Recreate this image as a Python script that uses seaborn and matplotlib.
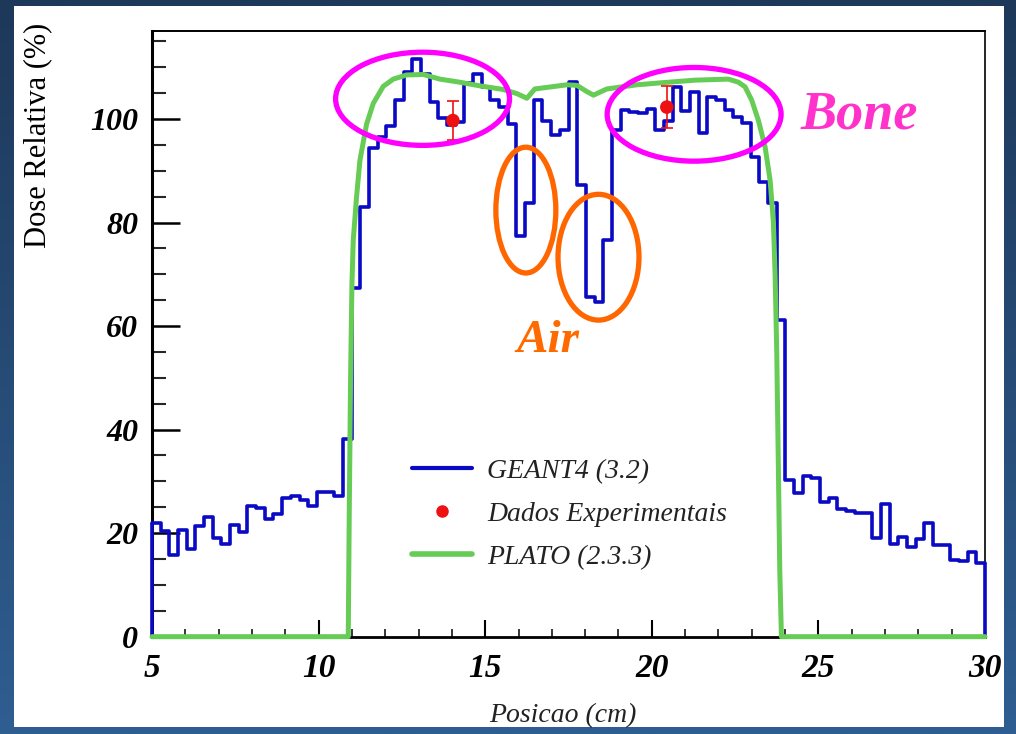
import numpy as np
import pandas as pd
import matplotlib
matplotlib.use("Agg")
import matplotlib.pyplot as plt
import seaborn as sns
from matplotlib.patches import Ellipse, Rectangle
from matplotlib.lines import Line2D
from matplotlib.ticker import MultipleLocator
from matplotlib.colors import LinearSegmentedColormap


# GEANT4 (3.2) dose histogram, 96 equal bins from 5 to 30 cm
geant4_left = [22.0, 20.5, 15.7, 20.7, 16.9, 21.4, 23.2, 19.0, 17.9, 21.6, 20.3, 25.2,
               24.8, 22.8, 23.6, 26.7, 27.2, 26.4, 25.3, 27.9, 27.9, 27.2, 38.1]
geant4_mid = [67.3, 83.0, 94.3, 96.5, 98.6, 103.7, 109.0, 111.5, 108.6, 103.2, 100.1, 98.8,
              99.4, 107.0, 108.6, 106.2, 103.7, 102.3, 99.1, 77.4, 83.8, 103.7, 99.7, 97.0,
              97.9, 107.1, 87.2, 65.6, 64.7, 76.7, 97.8, 101.7, 101.4, 101.2, 102.0, 97.9,
              99.7, 106.2, 101.5, 105.2, 97.3, 104.2, 103.7, 101.7, 100.3, 99.2, 92.7, 87.8,
              83.8, 61.1]
geant4_right = [30.2, 27.8, 31.1, 30.6, 26.1, 26.7, 24.6, 24.3, 23.9, 23.9, 19.0, 25.6,
                17.9, 19.3, 17.3, 18.8, 22.0, 17.7, 17.7, 14.8, 14.6, 16.4, 14.3]

# PLATO (2.3.3) profile
plato_x = [5.0, 10.89, 10.92, 10.96, 11.00, 11.04, 11.14, 11.24, 11.44, 11.64, 11.94, 12.24,
           12.64, 13.14, 13.64, 14.24, 14.84, 15.54, 15.95, 16.25, 16.49, 17.45, 17.75, 18.05,
           18.25, 18.65, 19.55, 20.30, 21.30, 22.30, 22.60, 22.80, 23.00, 23.20, 23.40, 23.55,
           23.65, 23.70, 23.75, 23.80, 23.84, 23.89, 30.0]
plato_y = [0, 0, 24, 50, 68, 76.6, 85, 92, 99, 103, 106.3, 107.7,
           108.5, 108.6, 107.7, 107.1, 106.4, 105.7, 104.9, 104.0, 105.8, 106.6, 106.5, 105.3,
           104.6, 105.8, 106.6, 107.0, 107.5, 107.7, 107.1, 106.2, 103.6, 99.7, 94.6, 88.2,
           80, 70, 55, 32, 13, 0, 0]

# Dados experimentais
exp_x = [14.03, 20.45]
exp_y = [99.7, 102.3]
exp_err = [3.8, 4.0]

x_ticks = [5, 10, 15, 20, 25, 30]
y_ticks = [0, 20, 40, 60, 80, 100]
legend_labels = ["GEANT4 (3.2)", "Dados Experimentais", "PLATO (2.3.3)"]

BLUE = "#0a0ac4"
GREEN = "#66cc55"
RED = "#ee1111"
MAGENTA = "#ff00ff"
ORANGE = "#ff6600"

geant4 = np.array(geant4_left + geant4_mid + geant4_right)
bin_edges = np.linspace(5, 30, len(geant4) + 1)
hist_df = pd.DataFrame({"pos": (bin_edges[:-1] + bin_edges[1:]) / 2, "dose": geant4})

sns.set_theme(style="white")
plt.rcParams["font.family"] = ["Liberation Serif", "DejaVu Serif"]

fig = plt.figure(figsize=(10.16, 7.34), dpi=100)

# slide background + white panel
bg = fig.add_axes([0, 0, 1, 1], zorder=-10)
grad = np.linspace(0, 1, 256).reshape(-1, 1)
cmap = LinearSegmentedColormap.from_list("slide", ["#1d3859", "#2f5e92"])
bg.imshow(grad, aspect="auto", cmap=cmap, extent=[0, 1, 0, 1], origin="upper")
bg.add_patch(Rectangle((0.0138, 0.0095), 0.9742, 0.9823, transform=bg.transAxes,
                       facecolor="white", edgecolor="none"))
bg.set_xlim(0, 1)
bg.set_ylim(0, 1)
bg.axis("off")

ax = fig.add_axes([0.1496, 0.1326, 0.8199, 0.8252])
ax.set_facecolor("white")

# GEANT4 histogram
sns.histplot(data=hist_df, x="pos", weights="dose", bins=list(bin_edges), element="step",
             fill=False, color=BLUE, linewidth=2.6, ax=ax)
hist_line = ax.lines[-1]
hist_line.set_zorder(3)
hist_line.set_clip_on(False)
ax.vlines([bin_edges[0], bin_edges[-1]], 0, [geant4[0], geant4[-1]], color=BLUE,
          linewidth=2.6, zorder=3, clip_on=False)

# PLATO
sns.lineplot(x=plato_x, y=plato_y, color=GREEN, linewidth=3.6, ax=ax, zorder=4,
             clip_on=False)

# experimental points
ax.errorbar(exp_x, exp_y, yerr=exp_err, fmt="none", ecolor=RED, elinewidth=1.2,
            capsize=4, capthick=1.2, zorder=5)
sns.scatterplot(x=exp_x, y=exp_y, color=RED, s=95, edgecolor="none", ax=ax, zorder=6)

# annotations
for (cx, cy, w, h, col) in [(13.12, 103.9, 5.22, 18.0, MAGENTA),
                            (21.27, 100.9, 5.22, 18.1, MAGENTA),
                            (16.22, 82.4, 1.80, 24.3, ORANGE),
                            (18.40, 73.3, 2.43, 24.3, ORANGE)]:
    ax.add_patch(Ellipse((cx, cy), w, h, fill=False, edgecolor=col, linewidth=3.8,
                         zorder=7, clip_on=False))
ax.text(26.22, 98.2, "Bone", color="#ff33cc", fontsize=39, fontweight="bold",
        fontstyle="italic", ha="center", va="baseline", zorder=8)
ax.text(16.88, 55.0, "Air", color="#ff6a00", fontsize=34, fontweight="bold",
        fontstyle="italic", ha="center", va="baseline", zorder=8)

# axes styling
ax.set_xlim(5, 30)
ax.set_ylim(0, 117)
ax.set_xticks(x_ticks)
ax.set_yticks(y_ticks)
ax.set_xticklabels([str(t) for t in x_ticks], fontsize=24, fontstyle="italic",
                   fontweight="bold")
ax.set_yticklabels([str(t) for t in y_ticks], fontsize=23, fontstyle="italic",
                   fontweight="bold")
ax.xaxis.set_minor_locator(MultipleLocator(1))
ax.yaxis.set_minor_locator(MultipleLocator(5))
ax.tick_params(axis="x", which="major", direction="in", length=12, width=1.5,
               bottom=True, top=False, pad=12, colors="black")
ax.tick_params(axis="x", which="minor", direction="in", length=6, width=1.3,
               bottom=True, top=False)
ax.tick_params(axis="y", which="major", direction="in", length=20, width=1.8,
               left=True, right=False, pad=10, colors="black")
ax.tick_params(axis="y", which="minor", direction="in", length=10, width=1.5,
               left=True, right=False)
for side, lw in [("left", 2.2), ("bottom", 2.0), ("top", 1.4), ("right", 1.2)]:
    ax.spines[side].set_color("black")
    ax.spines[side].set_linewidth(lw)
ax.set_xlabel("")
ax.set_ylabel("")

fig.text(0.0374, 1 - 135 / 734, "Dose Relativa (%)", rotation=90, ha="center",
         va="center", fontsize=22, color="black")
fig.text(563 / 1016, 1 - 716 / 734, "Posicao (cm)", ha="center", va="center",
         fontsize=20, fontstyle="italic", color="#222222")

handles = [Line2D([], [], color=BLUE, linewidth=3),
           Line2D([], [], color=RED, marker="o", linestyle="none", markersize=8),
           Line2D([], [], color=GREEN, linewidth=4)]
leg = ax.legend(handles, legend_labels, loc="upper left", bbox_to_anchor=(0.312, 0.2945),
                frameon=False, prop=dict(family="Liberation Serif", style="italic", size=20),
                handlelength=2.15, handletextpad=0.55, labelspacing=0.64, borderpad=0,
                borderaxespad=0)
for t in leg.get_texts():
    t.set_color("#222222")

fig.savefig("out.png", dpi=100)
